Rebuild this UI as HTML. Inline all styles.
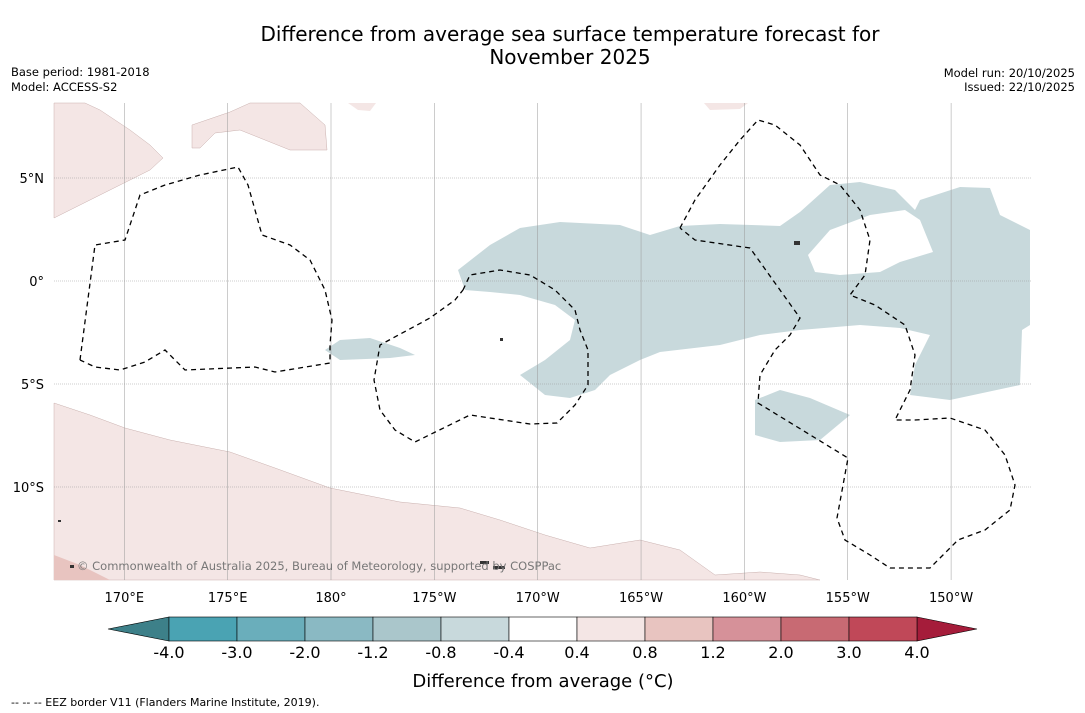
<!DOCTYPE html>
<html><head><meta charset="utf-8"><style>
body{margin:0;background:#fff;font-family:"DejaVu Sans","Liberation Sans",sans-serif}
svg{display:block;font-family:"DejaVu Sans","Liberation Sans",sans-serif}
</style></head><body>
<svg id="c" width="1085" height="713" xmlns="http://www.w3.org/2000/svg">
<text x="570" y="41" font-size="20" text-anchor="middle">Difference from average sea surface temperature forecast for</text>
<text x="570" y="64" font-size="20" text-anchor="middle">November 2025</text>
<text x="11" y="76" font-size="11.5">Base period: 1981-2018</text>
<text x="11" y="91" font-size="11.5">Model: ACCESS-S2</text>
<text x="1075" y="77" font-size="11.5" text-anchor="end">Model run: 20/10/2025</text>
<text x="1075" y="91" font-size="11.5" text-anchor="end">Issued: 22/10/2025</text>
<g id="map">
<path fill="#f4e6e5" stroke="#c9b0ae" stroke-width="0.5" d="M54,403 L90,415 125,428 170,440 230,452 275,468 330,488 400,502 460,508 500,520 545,535 590,548 640,540 680,550 715,575 760,572 800,575 820,580 54,580Z"/>
<path fill="#e8c4c0" d="M54,555 L80,565 110,580 54,580Z"/>
<path fill="#f4e6e5" stroke="#c9b0ae" stroke-width="0.5" d="M54,103 L54,218 90,200 120,185 150,170 163,158 150,145 130,130 100,110 85,103Z"/>
<path fill="#f4e6e5" stroke="#c9b0ae" stroke-width="0.5" d="M192,125 L230,112 250,103 300,103 325,125 327,150 290,150 240,130 215,133 200,148 192,148Z"/>
<path fill="#f4e6e5" d="M348,103 L376,103 370,111 358,110Z"/>
<path fill="#f4e6e5" d="M704,103 L748,103 740,109 710,110Z"/>
<path fill="#c8d9dc" fill-rule="evenodd" d="M458,270 L490,245 520,228 560,222 620,225 650,235 680,226 720,224 780,226 800,212 830,185 860,182 895,190 915,210 920,200 960,187 990,188 1000,215 1030,230 1030,325 1022,330 1020,385 950,400 910,395 915,365 930,335 900,328 860,325 800,330 760,335 720,345 660,352 640,360 610,375 595,390 570,398 545,395 520,375 545,360 570,340 575,320 555,305 520,295 490,292 465,290Z M808,255 L830,230 870,215 905,210 920,220 933,252 900,262 880,272 840,275 815,272Z"/>
<path fill="#c8d9dc" d="M325,350 L340,340 370,338 400,348 415,355 390,358 340,360Z"/>
<path fill="#c8d9dc" d="M755,400 L780,390 810,398 850,415 820,440 780,442 755,435Z"/>
<g id="grid" stroke="#999" stroke-width="0.5"></g>
<g fill="none" stroke="#000" stroke-width="1.3" stroke-dasharray="5,4">
<path d="M80,360 L95,245 125,240 140,195 165,185 200,175 238,167 248,185 262,235 290,245 310,260 325,290 332,320 330,345 330,363 275,372 255,367 185,370 165,350 145,362 120,370 95,367 80,360"/>
<path d="M463,290 L470,275 500,270 530,275 555,290 575,310 580,330 588,350 588,385 575,405 557,423 530,424 470,415 415,442 395,430 380,410 374,380 380,345 430,318 455,300 463,290"/>
<path d="M680,228 L695,200 720,165 740,140 758,120 775,125 800,145 820,175 840,185 860,210 870,240 865,275 850,295 875,305 905,325 915,355 910,390 895,420 915,420 950,418 985,430 1005,455 1015,485 1010,510 985,530 958,540 930,568 890,568 870,555 845,540 837,518 848,458 758,403 760,375 775,350 790,335 800,318 780,290 750,248 695,240 680,228"/>
</g>
<g fill="#333">
<rect x="480" y="561" width="9" height="3"/><rect x="493" y="566" width="12" height="3"/><rect x="70" y="565" width="4" height="3"/><rect x="58" y="520" width="3" height="2"/><rect x="794" y="241" width="6" height="4"/><rect x="500" y="338" width="3" height="3"/>
</g>
<text x="77" y="570" font-size="11.5" fill="#777">© Commonwealth of Australia 2025, Bureau of Meteorology, supported by COSPPac</text>
</g>
<g id="ticks" font-size="13"></g>
<g id="cbar"></g>
<text x="543" y="687" font-size="18" text-anchor="middle">Difference from average (°C)</text>
<text x="11" y="706" font-size="11">--  --  -- EEZ border V11 (Flanders Marine Institute, 2019).</text>
</svg>
<script>
const lonTicks=[170,175,180,185,190,195,200,205,210];
const lonLabels=["170°E","175°E","180°","175°W","170°W","165°W","160°W","155°W","150°W"];
const latTicks=[5,0,-5,-10];
const latLabels=["5°N","0°","5°S","10°S"];
const cbLevels=[-4.0,-3.0,-2.0,-1.2,-0.8,-0.4,0.4,0.8,1.2,2.0,3.0,4.0];
const cbColors=["#4aa3b3","#6aaebb","#8ab9c3","#aac6cb","#c8d9dc","#ffffff","#f4e6e5","#e8c4c0","#d69199","#c86a73","#c04858"];
const NS="http://www.w3.org/2000/svg";
const xLon=l=>331+(l-180)*20.67, yLat=l=>281-l*20.6;
const g=document.getElementById('grid'),t=document.getElementById('ticks');
function mk(tag,at,p){const e=document.createElementNS(NS,tag);for(const k in at)e.setAttribute(k,at[k]);p.appendChild(e);return e;}
lonTicks.forEach((l,i)=>{
 const ln=mk('line',{x1:xLon(l),x2:xLon(l),y1:103,y2:580},g);
 
 
 const tx=mk('text',{x:xLon(l),y:602,'text-anchor':'middle'},t);tx.textContent=lonLabels[i];
 
 
});
latTicks.forEach((l,i)=>{
 const ln=mk('line',{x1:54,x2:1031,y1:yLat(l),y2:yLat(l),'stroke-dasharray':'1,1'},g);
 
 
 const tx=mk('text',{x:44,y:yLat(l)+5,'text-anchor':'end'},t);tx.textContent=latLabels[i];
 
 
});
const cb=document.getElementById('cbar');const x0=169,w=68,y0=617,h=24;
let p=mk('polygon',{points:`108,629 ${x0},${y0} ${x0},${y0+h}`,fill:'#3d8089',stroke:'#000','stroke-width':0.6},cb);


const xe=x0+w*cbColors.length;
p=mk('polygon',{points:`${xe},${y0} 977,629 ${xe},${y0+h}`,fill:'#a51c3a',stroke:'#000','stroke-width':0.6},cb);


cbColors.forEach((c,i)=>{
 const r=mk('rect',{x:x0+i*w,y:y0,width:w,height:h,fill:c,stroke:'#000','stroke-width':0.6},cb);
 
 
});
cbLevels.forEach((v,i)=>{
 const tx=mk('text',{x:x0+i*w,y:658,'text-anchor':'middle','font-size':16},cb);tx.textContent=v.toFixed(1);
 
 
});
</script>
</body></html>
